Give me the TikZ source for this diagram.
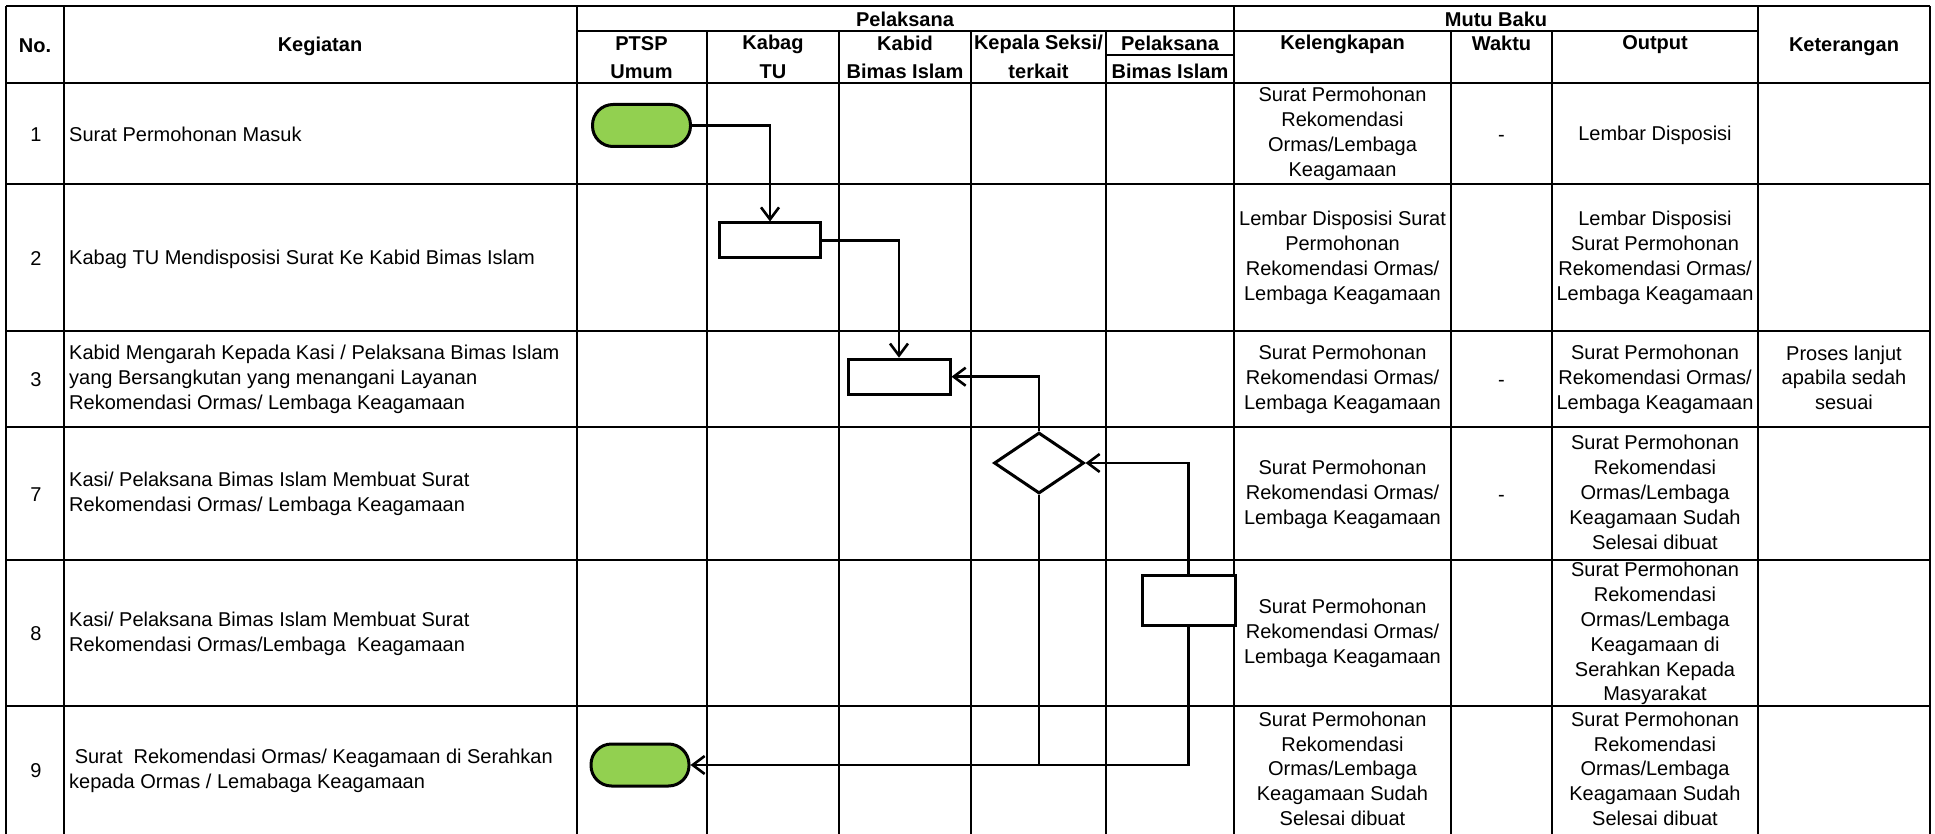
\documentclass[tikz,border=0pt]{standalone}
\usepackage{fontspec}
\setmainfont{Liberation Sans}
\usetikzlibrary{arrows.meta,shapes.geometric}
\definecolor{termgreen}{HTML}{92D050}
\newcommand{\vstrut}{\rule[-3.6pt]{0pt}{21.6pt}}
\begin{document}
\begin{tikzpicture}[x=1pt,y=-1pt,
  grid/.style={line width=2pt},
  txt/.style={font=\fontsize{20}{24.9}\selectfont, inner sep=0pt, align=center, execute at begin node=\vstrut, execute at end node=\vstrut},
  lefttxt/.style={txt, align=left, anchor=west},
  hdr/.style={txt, font=\fontsize{20}{24}\selectfont\bfseries},
  term/.style={rectangle, rounded corners=20.5pt, minimum width=98pt, minimum height=42pt, fill=termgreen, draw, line width=3pt, inner sep=0pt},
  procbox/.style={rectangle, draw, line width=3pt, fill=white, inner sep=0pt},
  decbox/.style={diamond, draw, line width=3pt, fill=white, inner sep=0pt, minimum width=90pt, minimum height=61pt},
  conn/.style={line width=2.6pt},
  arr/.style={conn, -{Straight Barb[length=12pt,width=18pt]}}]
\useasboundingbox (0,0) rectangle (1935,834);
% ---------- grid ----------
\foreach \yy in {6,83,184,331,427,560,706}{\draw[grid] (6,\yy) -- (1930,\yy);}
\draw[grid] (576.5,31) -- (1758,31);
\draw[grid] (1106,55) -- (1234,55);
\foreach \xx in {6,64,576.5,1234,1758,1930}{\draw[grid] (\xx,6) -- (\xx,834);}
\foreach \xx in {707,838.5,971,1106,1451,1552}{\draw[grid] (\xx,31) -- (\xx,834);}
% ---------- header ----------
\node[hdr] (hNo) at (35,45) {No.};
\node[hdr] (hKeg) at (320,45) {Kegiatan};
\node[hdr] (hPel) at (905,19) {Pelaksana};
\node[hdr] (hPtsp1) at (641.5,43) {PTSP};
\node[hdr] (hPtsp2) at (641.5,71) {Umum};
\node[hdr] (hKabag1) at (773,43) {Kabag};
\node[hdr] (hKabag2) at (773,71) {TU};
\node[hdr] (hKabid1) at (905,43) {Kabid};
\node[hdr] (hKabid2) at (905,71) {Bimas Islam};
\node[hdr] (hKasi1) at (1038.5,43) {Kepala Seksi/};
\node[hdr] (hKasi2) at (1038.5,71) {terkait};
\node[hdr] (hPb1) at (1170,43) {Pelaksana};
\node[hdr] (hPb2) at (1170,71) {Bimas Islam};
\node[hdr] (hMutu) at (1496,19) {Mutu Baku};
\node[hdr] (hKel) at (1342.5,43) {Kelengkapan};
\node[hdr] (hWak) at (1501.5,43) {Waktu};
\node[hdr] (hOut) at (1655,43) {Output};
\node[hdr] (hKet) at (1844,45) {Keterangan};
% ---------- row 1 ----------
\node[txt] (n1) at (36,134) {1};
\node[lefttxt] (k1) at (69,134) {Surat Permohonan Masuk};
\node[txt] (kel1) at (1342.5,134) {Surat Permohonan\\Rekomendasi\\Ormas/Lembaga\\Keagamaan};
\node[txt] (w1) at (1501.5,134) {-};
\node[txt] (o1) at (1655,134) {Lembar Disposisi};
% ---------- row 2 ----------
\node[txt] (n2) at (36,258) {2};
\node[lefttxt] (k2) at (69,258) {Kabag TU Mendisposisi Surat Ke Kabid Bimas Islam};
\node[txt] (kel2) at (1342.5,258) {Lembar Disposisi Surat\\Permohonan\\Rekomendasi Ormas/\\Lembaga Keagamaan};
\node[txt] (o2) at (1655,258) {Lembar Disposisi\\Surat Permohonan\\Rekomendasi Ormas/\\Lembaga Keagamaan};
% ---------- row 3 ----------
\node[txt] (n3) at (36,379.5) {3};
\node[lefttxt] (k3) at (69,379.5) {Kabid Mengarah Kepada Kasi / Pelaksana Bimas Islam\\yang Bersangkutan yang menangani Layanan\\Rekomendasi Ormas/ Lembaga Keagamaan};
\node[txt] (kel3) at (1342.5,379.5) {Surat Permohonan\\Rekomendasi Ormas/\\Lembaga Keagamaan};
\node[txt] (w3) at (1501.5,379.5) {-};
\node[txt] (o3) at (1655,379.5) {Surat Permohonan\\Rekomendasi Ormas/\\Lembaga Keagamaan};
\node[txt] (ket3) at (1844,379.5) {Proses lanjut\\apabila sedah\\sesuai};
% ---------- row 7 ----------
\node[txt] (n7) at (36,494) {7};
\node[lefttxt] (k7) at (69,494) {Kasi/ Pelaksana Bimas Islam Membuat Surat\\Rekomendasi Ormas/ Lembaga Keagamaan};
\node[txt] (kel7) at (1342.5,494) {Surat Permohonan\\Rekomendasi Ormas/\\Lembaga Keagamaan};
\node[txt] (w7) at (1501.5,494) {-};
\node[txt] (o7) at (1655,494) {Surat Permohonan\\Rekomendasi\\Ormas/Lembaga\\Keagamaan Sudah\\Selesai dibuat};
% ---------- row 8 ----------
\node[txt] (n8) at (36,633.5) {8};
\node[lefttxt] (k8) at (69,633.5) {Kasi/ Pelaksana Bimas Islam Membuat Surat\\Rekomendasi Ormas/Lembaga\ \ Keagamaan};
\node[txt] (kel8) at (1342.5,633.5) {Surat Permohonan\\Rekomendasi Ormas/\\Lembaga Keagamaan};
\node[txt] (o8) at (1655,633.5) {Surat Permohonan\\Rekomendasi\\Ormas/Lembaga\\Keagamaan di\\Serahkan Kepada\\Masyarakat};
% ---------- row 9 ----------
\node[txt] (n9) at (36,770.5) {9};
\node[lefttxt] (k9) at (69,770.5) {\hspace*{0.278em}Surat\ \ Rekomendasi Ormas/ Keagamaan di Serahkan\\kepada Ormas / Lemabaga Keagamaan};
\node[txt] (kel9) at (1342.5,770.5) {Surat Permohonan\\Rekomendasi\\Ormas/Lembaga\\Keagamaan Sudah\\Selesai dibuat};
\node[txt] (o9) at (1655,770.5) {Surat Permohonan\\Rekomendasi\\Ormas/Lembaga\\Keagamaan Sudah\\Selesai dibuat};
% ---------- flow shapes ----------
\node[term] (t1) at (641.5,125.5) {};
\node[procbox, minimum width=101pt, minimum height=35pt] (r2) at (770,240.5) {};
\node[procbox, minimum width=102pt, minimum height=35pt] (r3) at (899,376.7) {};
\node[decbox] (dia) at (1039,463) {};
\node[procbox, minimum width=93pt, minimum height=50pt] (r4) at (1188.5,600.5) {};
\node[term] (t2) at (640,765) {};
% ---------- connectors ----------
\draw[arr] (t1.east) -| (r2.north);
\draw[arr] (r2.east) -| (r3.north);
\draw[arr] (dia.north) |- (r3.east);
\draw[arr] (r4.north) |- (dia.east);
\draw[arr] (r4.south) |- (t2.east);
\draw[conn] (dia.south) -- (dia.south |- t2.east);
\end{tikzpicture}
\end{document}
